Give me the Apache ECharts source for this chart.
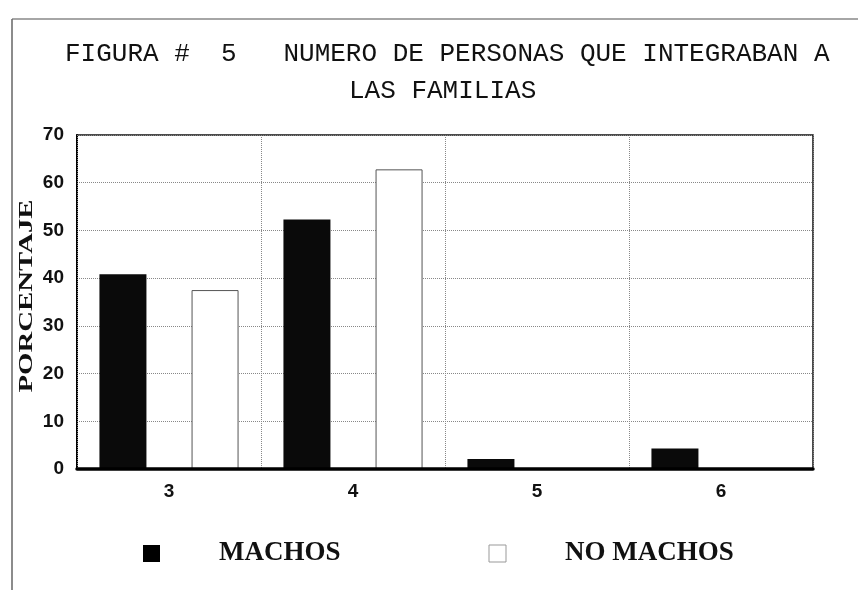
<!DOCTYPE html>
<html>
<head>
<meta charset="utf-8">
<script src="https://cdn.jsdelivr.net/npm/echarts@6/dist/echarts.min.js"></script>
<style>html,body{margin:0;padding:0;background:#fff;}#chart{width:858px;height:590px;}</style>
</head>
<body>
<div id="chart"></div>
<script>
var categories = ['3', '4', '5', '6'];
var machos = [40.8, 52.3, 2.1, 4.3];
var noMachos = [37.5, 62.8, 0, 0];
var seriesNames = ['MACHOS', 'NO MACHOS'];
var titleLine1 = 'FIGURA #  5   NUMERO DE PERSONAS QUE INTEGRABAN A';
var titleLine2 = 'LAS FAMILIAS';
var yName = 'PORCENTAJE';

var chart = echarts.init(document.getElementById('chart'), null, {renderer: 'canvas'});
var monoFont = '"Courier New", "Liberation Mono", monospace';
var serifFont = '"Times New Roman", "Liberation Serif", serif';
var sansFont = 'Arial, "Liberation Sans", sans-serif';

chart.setOption({
  backgroundColor: '#fff',
  animation: false,
  title: [
    {text: titleLine1, left: 60, top: 36, textStyle: {fontFamily: monoFont, fontSize: 26, fontWeight: 'normal', color: '#111'}},
    {text: titleLine2, left: 344, top: 73, textStyle: {fontFamily: monoFont, fontSize: 26, fontWeight: 'normal', color: '#111'}}
  ],
  graphic: [
    {type: 'line', shape: {x1: 12, y1: 19, x2: 858, y2: 19}, style: {stroke: '#888', lineWidth: 1.5}},
    {type: 'line', shape: {x1: 12, y1: 19, x2: 12, y2: 590}, style: {stroke: '#666', lineWidth: 1.5}},
    {type: 'text', x: 27, y: 296, rotation: Math.PI / 2, scaleX: 1.6,
     style: {text: yName, x: 0, y: 0, textAlign: 'center', textVerticalAlign: 'middle',
             font: 'bold 18px ' + serifFont, fill: '#111'}}
  ],
  legend: {
    data: [
      {name: seriesNames[0], itemStyle: {color: '#000', borderWidth: 0}},
      {name: seriesNames[1], itemStyle: {color: '#fff', borderColor: '#999', borderWidth: 1}}
    ],
    left: 138, top: 535,
    icon: 'rect', itemWidth: 17, itemHeight: 17, itemGap: 148,
    textStyle: {fontFamily: serifFont, fontWeight: 'bold', fontSize: 27, color: '#111', padding: [0, 0, 0, 54]}
  },
  grid: {left: 77, right: 45, top: 135, bottom: 121, show: true, borderColor: '#111', borderWidth: 1.5, containLabel: false},
  xAxis: {
    type: 'category', data: categories, boundaryGap: true, z: 5,
    axisLine: {show: true, lineStyle: {color: '#000', width: 3.5}},
    axisTick: {show: false},
    splitLine: {show: true, lineStyle: {color: '#888', type: 'dotted', width: 1}},
    axisLabel: {fontFamily: sansFont, fontWeight: 'bold', fontSize: 19, color: '#111', margin: 13}
  },
  yAxis: {
    type: 'value', min: 0, max: 70, interval: 10,
    axisLine: {show: true, lineStyle: {color: '#000', width: 2}},
    axisTick: {show: false},
    splitLine: {show: true, lineStyle: {color: '#888', type: 'dotted', width: 1}},
    axisLabel: {fontFamily: sansFont, fontWeight: 'bold', fontSize: 19, color: '#111', margin: 13}
  },
  series: [
    {name: seriesNames[0], type: 'bar', data: machos, barWidth: 47, barGap: '96%',
     itemStyle: {color: '#0a0a0a'}},
    {name: seriesNames[1], type: 'bar', data: noMachos, barWidth: 47,
     itemStyle: {color: '#fff', borderColor: '#555', borderWidth: 1}}
  ]
});
</script>
</body>
</html>
